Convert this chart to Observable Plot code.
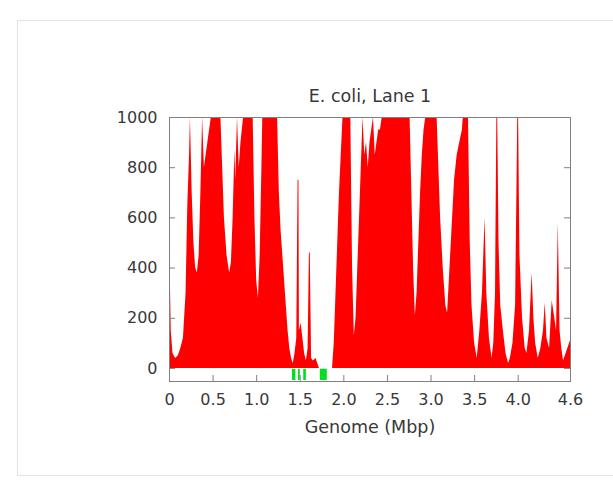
<!DOCTYPE html>
<html>
<head>
<meta charset="utf-8">
<script src="https://cdn.jsdelivr.net/npm/d3@7"></script>
<script src="https://cdn.jsdelivr.net/npm/@observablehq/plot@0.6"></script>
<style>
  html, body { margin: 0; padding: 0; background: #fff; }
  #wrap { position: relative; width: 613px; height: 488px; }
  #border { position: absolute; left: 17px; top: 20px; width: 600px; height: 456px; border: 1px solid #e2e2e2; box-sizing: border-box; }
  #chart { position: absolute; left: 0; top: 0; }
</style>
</head>
<body>
<div id="wrap"><div id="border"></div><div id="chart"></div></div>
<script>
// Genome position (Mbp)
const positions = [
  0.00, 0.01, 0.02, 0.04, 0.07, 0.10, 0.13, 0.16, 0.19, 0.21, 0.23, 0.24, 0.26, 0.28, 0.30, 0.32, 0.34, 0.36, 0.38, 0.40,
  0.42, 0.44, 0.46, 0.48, 0.50, 0.55, 0.59, 0.61, 0.63, 0.66, 0.69, 0.71, 0.73, 0.75, 0.76, 0.78, 0.80, 0.82, 0.85, 0.90,
  0.96, 0.98, 1.00, 1.02, 1.04, 1.06, 1.07, 1.15, 1.24, 1.26, 1.28, 1.30, 1.32, 1.34, 1.36, 1.38, 1.40, 1.42, 1.44, 1.46,
  1.475, 1.485, 1.49, 1.51, 1.53, 1.55, 1.57, 1.59, 1.605, 1.615, 1.63, 1.65, 1.68, 1.70, 1.72, 1.80, 1.87, 1.89, 1.91, 1.93,
  1.95, 1.97, 1.99, 2.04, 2.08, 2.10, 2.12, 2.14, 2.16, 2.18, 2.20, 2.22, 2.24, 2.26, 2.28, 2.30, 2.32, 2.34, 2.36, 2.38,
  2.40, 2.42, 2.44, 2.60, 2.76, 2.78, 2.80, 2.82, 2.84, 2.86, 2.88, 2.90, 2.92, 2.94, 3.00, 3.07, 3.09, 3.11, 3.14, 3.17,
  3.19, 3.21, 3.24, 3.27, 3.30, 3.33, 3.36, 3.37, 3.43, 3.45, 3.47, 3.50, 3.53, 3.56, 3.59, 3.62, 3.64, 3.67, 3.70, 3.72,
  3.74, 3.755, 3.765, 3.78, 3.80, 3.83, 3.86, 3.89, 3.91, 3.94, 3.97, 3.995, 4.005, 4.02, 4.05, 4.08, 4.10, 4.13, 4.16, 4.18,
  4.20, 4.23, 4.26, 4.29, 4.31, 4.33, 4.36, 4.39, 4.42, 4.44, 4.46, 4.48, 4.50, 4.52, 4.55, 4.58, 4.60
];
// Read coverage (capped at 1000 in the view)
const coverage = [
  700, 350, 150, 60, 40, 50, 80, 120, 300, 650, 850, 1000, 700, 500, 400, 380, 450, 700, 1000, 800,
  850, 900, 950, 1000, 1000, 1000, 1000, 800, 600, 450, 380, 420, 600, 870, 750, 1000, 800, 900, 1000, 1000,
  1000, 600, 350, 280, 450, 800, 1000, 1000, 1000, 700, 550, 450, 350, 250, 150, 80, 40, 20, 60, 120,
  750, 750, 150, 180, 120, 60, 30, 80, 460, 460, 40, 30, 40, 20, 0, 0, 0, 100, 300, 500,
  700, 850, 1000, 1000, 1000, 400, 130, 200, 400, 600, 800, 1000, 850, 900, 800, 900, 950, 1000, 850, 900,
  950, 950, 1000, 1000, 1000, 700, 400, 210, 300, 500, 700, 850, 950, 1000, 1000, 1000, 800, 600, 400, 250,
  220, 350, 550, 750, 850, 900, 950, 1000, 1000, 500, 250, 100, 40, 150, 300, 600, 300, 120, 40, 100,
  300, 1000, 1000, 500, 250, 150, 60, 20, 40, 100, 250, 1000, 1000, 450, 200, 80, 60, 150, 380, 200,
  100, 40, 80, 150, 260, 120, 80, 270, 200, 150, 580, 150, 80, 30, 60, 90, 110
];
// Green marked regions (Mbp start, end)
const greenStart = [1.41, 1.48, 1.54, 1.73];
const greenEnd   = [1.45, 1.50, 1.57, 1.81];

const xTicks = [0, 0.5, 1.0, 1.5, 2.0, 2.5, 3.0, 3.5, 4.0, 4.6];
const yTicks = [0, 200, 400, 600, 800, 1000];
const title = "E. coli, Lane 1";
const xLabel = "Genome (Mbp)";

const data = positions.map((p, i) => ({pos: p, cov: coverage[i]}));
const greens = greenStart.map((s, i) => ({s, e: greenEnd[i]}));

const chart = Plot.plot({
  width: 613,
  height: 488,
  marginLeft: 169,
  marginRight: 43,
  marginTop: 117,
  marginBottom: 107,
  style: {fontFamily: "'DejaVu Sans', sans-serif", fontSize: "16px", color: "#383838", background: "transparent"},
  x: {domain: [0, 4.6]},
  y: {domain: [-52, 1000]},
  marks: [
    Plot.areaY(data, {x: "pos", y1: 0, y2: "cov", fill: "#ff0000", curve: "linear"}),
    Plot.rect(greens, {x1: "s", x2: "e", y1: -48, y2: -3, fill: "#00dd22"}),
    Plot.frame({stroke: "#808080", strokeWidth: 1}),
    Plot.tickY(yTicks, {y: d => d, insetRight: 395, stroke: "#808080"}),
    Plot.tickY(yTicks, {y: d => d, insetLeft: 395, stroke: "#808080"}),
    Plot.tickX(xTicks, {x: d => d, insetTop: 258, stroke: "#808080"}),
    Plot.axisY({ticks: yTicks, tickSize: 0, tickPadding: 12, label: null, fontSize: 16,
      tickFormat: d => String(d)}),
    Plot.axisX({ticks: xTicks, tickSize: 0, tickPadding: 12, label: null, fontSize: 16,
      tickFormat: d => d === 0 ? "0" : d.toFixed(1)}),
    Plot.text([title], {frameAnchor: "top", dy: -28, fontSize: 17.5, fill: "#383838"}),
    Plot.text([xLabel], {frameAnchor: "bottom", dy: 51, fontSize: 17.5, fill: "#383838"})
  ]
});
document.getElementById("chart").appendChild(chart);
</script>
</body>
</html>
